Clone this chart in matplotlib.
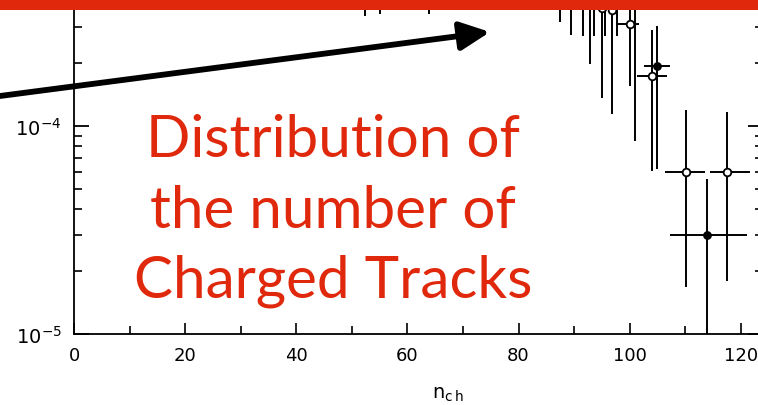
import matplotlib
matplotlib.use("Agg")
import matplotlib.pyplot as plt
from matplotlib.patches import Rectangle, FancyArrowPatch, ArrowStyle
from matplotlib.ticker import FixedLocator, FixedFormatter, LogLocator, NullFormatter
import numpy as np

# ---------------- data ----------------
open_x   = [92.9, 95.0, 96.8, 100.1, 104.1, 110.1, 117.5]
open_y   = [4.6e-4, 3.7e-4, 3.6e-4, 3.1e-4, 1.75e-4, 6.0e-5, 6.0e-5]
open_lo  = [1.99e-4, 1.36e-4, 1.14e-4, 1.56e-4, 6.1e-5, 1.67e-5, 1.8e-5]
open_hi  = [9.0e-4, 6.5e-4, 6.5e-4, 5.5e-4, 2.9e-4, 1.2e-4, 1.17e-4]
open_xlo = [92.9, 95.0, 96.8, 97.5, 101.3, 106.4, 114.5]
open_xhi = [92.9, 95.0, 96.8, 101.6, 106.8, 113.6, 121.7]

filled_x   = [52.4, 55.0, 63.9, 87.5, 89.5, 91.6, 93.6, 95.6, 97.8, 101.0, 105.0, 114.0]
filled_y   = [2.0e-3, 2.0e-3, 1.5e-3, 9.0e-4, 8.0e-4, 7.0e-4, 6.5e-4, 6.0e-4, 5.5e-4, 4.5e-4, 1.94e-4, 3.0e-5]
filled_lo  = [3.4e-4, 3.46e-4, 3.46e-4, 3.17e-4, 2.74e-4, 2.71e-4, 2.71e-4, 2.71e-4, 2.71e-4, 8.5e-5, 6.2e-5, 8.0e-6]
filled_hi  = [5e-3, 5e-3, 4e-3, 2e-3, 2e-3, 1.6e-3, 1.5e-3, 1.4e-3, 1.3e-3, 9e-4, 3.04e-4, 5.55e-5]
filled_xlo = [52.4, 55.0, 63.9, 87.5, 89.5, 91.6, 93.6, 95.6, 97.8, 101.0, 102.6, 107.3]
filled_xhi = [52.4, 55.0, 63.9, 87.5, 89.5, 91.6, 93.6, 95.6, 97.8, 101.0, 107.3, 121.1]

x_ticks = [0, 20, 40, 60, 80, 100, 120]
x_tick_labels = ["0", "20", "40", "60", "80", "100", "120"]
y_ticks = [1e-5, 1e-4]
y_tick_labels = [r"$\mathregular{10^{-5}}$", r"$\mathregular{10^{-4}}$"]
title_lines = ["Distribution of", "the number of", "Charged Tracks"]
x_label = r"$\mathregular{n_{c\,h}}$"

# ---------------- figure ----------------
W, H = 758, 406
fig = plt.figure(figsize=(W / 100, H / 100), dpi=100)
fig.patch.set_facecolor("white")

# axes in pixel geometry
left_px, right_px = 74, 763
bottom_px, top_px = 334.7, -80.7
ax = fig.add_axes([left_px / W, 1 - bottom_px / H,
                   (right_px - left_px) / W, (bottom_px - top_px) / H])
ax.set_yscale("log")
ax.set_xlim(0, 124)
ax.set_ylim(1e-5, 1e-3)

for s in ax.spines.values():
    s.set_linewidth(1.3)
    s.set_color("black")

ax.xaxis.set_major_locator(FixedLocator(x_ticks))
ax.xaxis.set_major_formatter(FixedFormatter(x_tick_labels))
ax.xaxis.set_minor_locator(FixedLocator(np.arange(10, 125, 20)))
ax.yaxis.set_major_locator(FixedLocator(y_ticks))
ax.yaxis.set_major_formatter(FixedFormatter(y_tick_labels))
ax.yaxis.set_minor_locator(LogLocator(base=10, subs=np.arange(2, 10)))
ax.yaxis.set_minor_formatter(NullFormatter())

ax.tick_params(axis="x", which="major", direction="in", length=8, width=1.2,
               labelsize=13, pad=9, top=False)
ax.tick_params(axis="x", which="minor", direction="in", length=6, width=1.2, top=False)
ax.tick_params(axis="y", which="major", direction="in", length=11, width=1.3,
               labelsize=14, pad=9, right=True)
ax.tick_params(axis="y", which="minor", direction="in", length=6, width=1.2, right=True)

def draw_series(xs, ys, lo, hi, xlo, xhi, filled):
    xs = np.array(xs); ys = np.array(ys)
    yerr = [ys - np.array(lo), np.array(hi) - ys]
    xerr = [xs - np.array(xlo), np.array(xhi) - xs]
    ax.errorbar(xs, ys, yerr=yerr, xerr=xerr, fmt="o",
                ms=5.5 if not filled else 5,
                mfc="black" if filled else "white", mec="black", mew=1.3,
                ecolor="black", elinewidth=1.4, capsize=0, zorder=3)

draw_series(filled_x, filled_y, filled_lo, filled_hi, filled_xlo, filled_xhi, True)
draw_series(open_x, open_y, open_lo, open_hi, open_xlo, open_xhi, False)

# x label
fig.text(448 / W, 1 - 395 / H, x_label, ha="center", va="center", fontsize=14)

# ---------------- overlays ----------------
red = "#E0280C"
fig.add_artist(Rectangle((0, 1 - 10.7 / H), 1, 10.7 / H, transform=fig.transFigure,
                         facecolor=red, edgecolor="none", zorder=20))

arrow = FancyArrowPatch((0 / W, 1 - 97 / H), (490 / W, 1 - 33 / H),
                        transform=fig.transFigure,
                        arrowstyle=ArrowStyle("-|>", head_length=18, head_width=8.6),
                        mutation_scale=1, lw=4.2, color="black",
                        shrinkA=0, shrinkB=0, zorder=21)
fig.add_artist(arrow)

baselines = [157, 228, 298]
for line, yb in zip(title_lines, baselines):
    fig.text(333 / W, 1 - yb / H, line, ha="center", va="baseline",
             fontsize=42, color=red, family=["Lato", "DejaVu Sans"], zorder=22)

fig.savefig("out.png", dpi=100)
